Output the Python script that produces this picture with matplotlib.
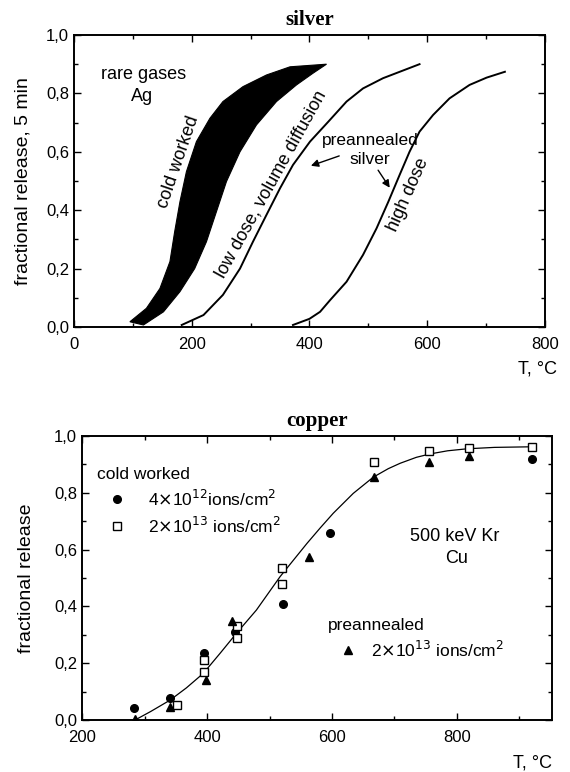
import numpy as np
import matplotlib.pyplot as plt
from matplotlib.ticker import MultipleLocator, FuncFormatter

plt.rcParams['font.family'] = ['Liberation Sans', 'DejaVu Sans']

# silver, cold worked band: left (upper) edge and right (lower) edge
cw_left_T = [95, 123, 146, 163, 171, 180, 191, 208, 231, 253, 287, 327, 367, 429]
cw_left_f = [0.018, 0.064, 0.132, 0.224, 0.326, 0.429, 0.532, 0.635, 0.715, 0.772, 0.823, 0.863, 0.891, 0.90]
cw_right_T = [429, 406, 378, 344, 310, 282, 259, 242, 225, 205, 180, 152, 118]
cw_right_f = [0.90, 0.869, 0.829, 0.772, 0.692, 0.60, 0.498, 0.395, 0.292, 0.20, 0.121, 0.052, 0.007]

# silver, preannealed low dose
low_T = [183, 220, 253, 282, 304, 327, 350, 372, 401, 432, 463, 491, 525, 587]
low_f = [0.007, 0.041, 0.11, 0.20, 0.292, 0.384, 0.475, 0.555, 0.635, 0.703, 0.772, 0.817, 0.852, 0.90]

# silver, preannealed high dose
high_T = [372, 400, 418, 435, 463, 491, 514, 534, 553, 570, 587, 610, 638, 672, 701, 732]
high_f = [0.007, 0.028, 0.052, 0.092, 0.155, 0.247, 0.338, 0.429, 0.52, 0.60, 0.669, 0.726, 0.783, 0.829, 0.854, 0.874]

# copper data
circ_T = [283, 341, 395, 445, 522, 597, 920]
circ_f = [0.042, 0.077, 0.236, 0.31, 0.41, 0.66, 0.92]
sq_T = [352, 395, 395, 448, 448, 520, 520, 667, 755, 819, 920]
sq_f = [0.053, 0.21, 0.17, 0.33, 0.29, 0.535, 0.48, 0.91, 0.947, 0.957, 0.96]
tri_T = [285, 341, 398, 440, 563, 667, 755, 819]
tri_f = [0.005, 0.047, 0.14, 0.35, 0.575, 0.855, 0.91, 0.93]

# copper guide curve
fit_T = [285, 310, 341, 367, 394, 421, 447, 479, 517, 560, 581, 602, 634, 666, 690, 709, 735, 757, 785, 816, 860, 917]
fit_f = [0.0, 0.03, 0.07, 0.113, 0.164, 0.235, 0.305, 0.387, 0.505, 0.622, 0.676, 0.728, 0.798, 0.855, 0.885, 0.904, 0.925, 0.937, 0.948, 0.955, 0.96, 0.962]

comma = FuncFormatter(lambda v, p: f"{v:.1f}".replace('.', ','))


def style_axes(ax):
    ax.tick_params(which='both', direction='in', top=True, right=True, labelsize=12, width=1)
    ax.tick_params(which='major', length=5)
    ax.tick_params(which='minor', length=3)
    ax.tick_params(axis='x', pad=7)
    ax.yaxis.set_major_locator(MultipleLocator(0.2))
    ax.yaxis.set_minor_locator(MultipleLocator(0.1))
    ax.yaxis.set_major_formatter(comma)
    ax.xaxis.set_major_locator(MultipleLocator(200))
    ax.xaxis.set_minor_locator(MultipleLocator(100))
    for s in ax.spines.values():
        s.set_linewidth(1.4)


fig = plt.figure(figsize=(5.7, 7.72), dpi=100)

# ---- silver ----
ax1 = fig.add_axes([0.1298, 0.5764, 0.956 - 0.1298, 0.9547 - 0.5764])
band_T = cw_left_T + cw_right_T
band_f = cw_left_f + cw_right_f
ax1.fill(band_T, band_f, color='black', lw=0.8)
ax1.plot(low_T, low_f, color='black', lw=1.4)
ax1.plot(high_T, high_f, color='black', lw=1.4)
ax1.set_xlim(0, 800)
ax1.set_ylim(0, 1.0)
style_axes(ax1)
ax1.set_ylabel('fractional release, 5 min', fontsize=14)
ax1.yaxis.set_label_coords(-0.09, 0.5)
ax1.set_xlabel('T, °C', fontsize=13)
ax1.xaxis.set_label_coords(1.025, -0.115)
ax1.xaxis.label.set_ha('right')
ax1.set_title('silver', family='Liberation Serif', fontweight='bold', fontsize=15, pad=7)

ax1.text(118, 0.863, 'rare gases', ha='center', va='center', fontsize=13)
ax1.text(116, 0.788, 'Ag', ha='center', va='center', fontsize=13)
ax1.text(178, 0.565, 'cold worked', rotation=71, ha='center', va='center', fontsize=13)
ax1.text(334, 0.488, 'low dose, volume diffusion', rotation=61, ha='center', va='center', fontsize=13)
ax1.text(568, 0.452, 'high dose', rotation=66, ha='center', va='center', fontsize=13)
ax1.text(503, 0.64, 'preannealed', ha='center', va='center', fontsize=12.5)
ax1.text(503, 0.572, 'silver', ha='center', va='center', fontsize=12.5)
ax1.annotate('', xy=(398, 0.549), xytext=(455, 0.589),
             arrowprops=dict(arrowstyle='-|>', color='black', lw=1, mutation_scale=11))
ax1.annotate('', xy=(539, 0.469), xytext=(514, 0.545),
             arrowprops=dict(arrowstyle='-|>', color='black', lw=1, mutation_scale=11))

# ---- copper ----
ax2 = fig.add_axes([0.1439, 0.0674, 0.9684 - 0.1439, 0.4352 - 0.0674])
ax2.plot(fit_T, fit_f, color='black', lw=0.9)
ax2.plot(circ_T, circ_f, 'o', color='black', ms=5.5)
ax2.plot(sq_T, sq_f, 's', mfc='white', mec='black', mew=1, ms=6)
ax2.plot(tri_T, tri_f, '^', color='black', ms=6)
ax2.set_xlim(200, 952)
ax2.set_ylim(0, 1.0)
style_axes(ax2)
ax2.set_ylabel('fractional release', fontsize=14)
ax2.yaxis.set_label_coords(-0.10, 0.5)
ax2.set_xlabel('T, °C', fontsize=13)
ax2.xaxis.set_label_coords(1.0, -0.12)
ax2.xaxis.label.set_ha('right')
ax2.set_title('copper', family='Liberation Serif', fontweight='bold', fontsize=15, pad=7)

ax2.text(224, 0.863, 'cold worked', ha='left', va='center', fontsize=12.5)
ax2.plot([255.5], [0.778], 'o', color='black', ms=5.5)
ax2.text(305, 0.778, r'4$\times$10$^{12}$ions/cm$^2$', ha='left', va='center', fontsize=12.5)
ax2.plot([255.5], [0.683], 's', mfc='white', mec='black', mew=1, ms=6)
ax2.text(305, 0.683, r'2$\times$10$^{13}$ ions/cm$^2$', ha='left', va='center', fontsize=12.5)
ax2.text(797, 0.645, '500 keV Kr', ha='center', va='center', fontsize=13)
ax2.text(800, 0.57, 'Cu', ha='center', va='center', fontsize=13)
ax2.text(594, 0.331, 'preannealed', ha='left', va='center', fontsize=12.5)
ax2.plot([626], [0.246], '^', color='black', ms=6)
ax2.text(663, 0.246, r'2$\times$10$^{13}$ ions/cm$^2$', ha='left', va='center', fontsize=12.5)

fig.savefig('out.png', dpi=100)
